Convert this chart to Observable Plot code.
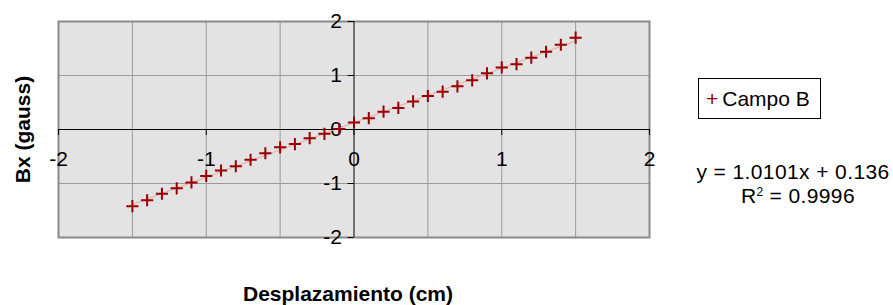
<!DOCTYPE html>
<html>
<head>
<meta charset="utf-8">
<script src="https://cdn.jsdelivr.net/npm/d3@7"></script>
<script src="https://cdn.jsdelivr.net/npm/@observablehq/plot@0.6"></script>
<style>
  body { margin: 0; background: #fff; }
  #wrap { position: relative; width: 893px; height: 305px; font-family: "Liberation Sans", Arial, sans-serif; color: #000; }
  #wrap svg { display: block; }
  [aria-label="axis-title"] text { letter-spacing: 0.5px; }
  #legend { position: absolute; left: 698px; top: 78px; width: 121px; height: 39px; border: 1px solid #000; box-sizing: content-box; font-size: 21px; line-height: 39px; white-space: nowrap; }
  #legend .mk { color: #990000; font-size: 21px; margin-left: 7px; margin-right: 4px; }
  .eq { position: absolute; left: 688px; width: 210px; text-align: center; font-size: 21px; line-height: 22px; letter-spacing: 0.4px; white-space: nowrap; }
  .eq sup { font-size: 12px; letter-spacing: 0; vertical-align: 7px; line-height: 0; }
</style>
</head>
<body>
<div id="wrap"></div>
<script>
// Data
const desplazamiento = [-1.5, -1.4, -1.3, -1.2, -1.1, -1.0, -0.9, -0.8, -0.7, -0.6, -0.5, -0.4, -0.3, -0.2, -0.1,
  0.0, 0.1, 0.2, 0.3, 0.4, 0.5, 0.6, 0.7, 0.8, 0.9, 1.0, 1.1, 1.2, 1.3, 1.4, 1.5];
const campoB = [-1.42, -1.31, -1.19, -1.09, -0.98, -0.86, -0.76, -0.68, -0.56, -0.44, -0.33, -0.27, -0.16, -0.08, 0.01,
  0.13, 0.21, 0.33, 0.40, 0.52, 0.62, 0.70, 0.80, 0.91, 1.04, 1.15, 1.21, 1.33, 1.44, 1.57, 1.70];
const xTicks = [-2, -1, 0, 1, 2];
const yTicks = [-2, -1, 0, 1, 2];
const xGrid = [-1.5, -1, -0.5, 0.5, 1, 1.5];
const yGrid = [-1, 1];
const seriesName = "Campo B";
const xTitle = "Desplazamiento (cm)";
const yTitle = "Bx (gauss)";
const eqLine1 = "y = 1.0101x + 0.136";
const r2Value = "0.9996";

const table = desplazamiento.map((x, i) => ({x, y: campoB[i]}));

const W = 893, H = 305;
const mt = 21, mb = 68, ml = 58, mr = 244;
const innerW = W - ml - mr, innerH = H - mt - mb;
const markColor = "#990000";

const chart = Plot.plot({
  width: W, height: H,
  marginTop: mt, marginBottom: mb, marginLeft: ml, marginRight: mr,
  style: {fontFamily: "'Liberation Sans', Arial, sans-serif", fontSize: "21px", color: "#000", background: "#fff", overflow: "visible"},
  x: {domain: [-2, 2]},
  y: {domain: [-2, 2]},
  marks: [
    Plot.frame({fill: "#e3e3e3", stroke: null}),
    Plot.gridX(xGrid, {stroke: "#9a9a9a", strokeOpacity: 1, strokeWidth: 1}),
    Plot.gridY(yGrid, {stroke: "#9a9a9a", strokeOpacity: 1, strokeWidth: 1}),
    Plot.frame({stroke: "#8a8a8a", strokeWidth: 2}),
    Plot.ruleY([0], {stroke: "#000", strokeWidth: 1}),
    Plot.ruleX([0], {stroke: "#000", strokeWidth: 1}),
    Plot.axisX(xTicks, {anchor: "bottom", dy: -innerH / 2, tickSize: 6, tickPadding: 16, label: null,
      tickFormat: d => String(d), fontSize: 21, stroke: "#000"}),
    Plot.axisY(yTicks, {anchor: "left", dx: innerW / 2, tickSize: 6, tickPadding: 6, label: null,
      tickFormat: d => String(d), fontSize: 21, stroke: "#000"}),
    Plot.linearRegressionY(table, {x: "x", y: "y", ci: 0, stroke: "#f2a0a0", strokeWidth: 1}),
    Plot.dot(table, {x: "x", y: "y", symbol: "plus", r: 4, stroke: markColor, strokeWidth: 2}),
    Plot.text([yTitle], {frameAnchor: "left", textAnchor: "middle", lineAnchor: "middle", rotate: -90, dx: -35,
      fontSize: 21, fontWeight: "bold", ariaLabel: "axis-title"}),
    Plot.text([xTitle], {frameAnchor: "bottom", textAnchor: "middle", lineAnchor: "middle", dy: 57, dx: -6,
      fontSize: 21, fontWeight: "bold", ariaLabel: "axis-title"})
  ]
});

const wrap = document.getElementById("wrap");
wrap.appendChild(chart);

const legend = document.createElement("div");
legend.id = "legend";
legend.innerHTML = `<span class="mk">+</span>${seriesName}`;
wrap.appendChild(legend);

const eq1 = document.createElement("div");
eq1.className = "eq"; eq1.style.top = "161px";
eq1.textContent = eqLine1;
wrap.appendChild(eq1);

const eq2 = document.createElement("div");
eq2.className = "eq"; eq2.style.top = "185px"; eq2.style.left = "693px";
eq2.innerHTML = `R<sup>2</sup> = ${r2Value}`;
wrap.appendChild(eq2);
</script>
</body>
</html>
